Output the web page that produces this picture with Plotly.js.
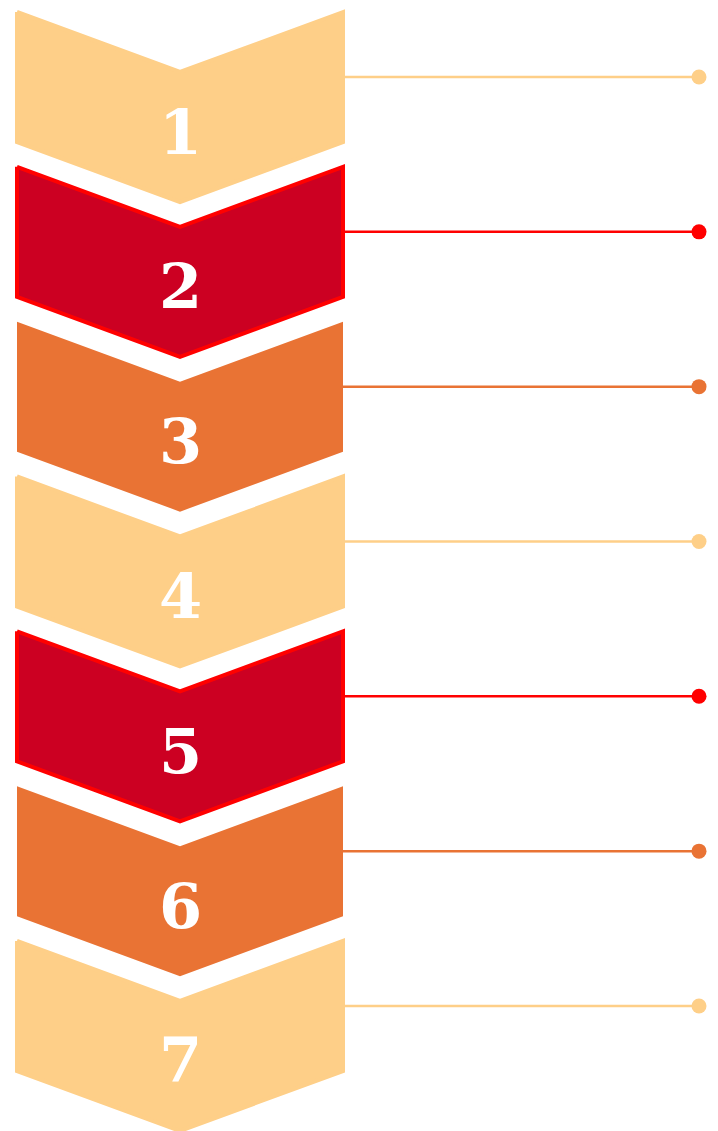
<!DOCTYPE html>
<html>
<head>
<meta charset="utf-8">
<script src="https://cdn.plot.ly/plotly-3.0.1.min.js"></script>
<style>html,body{margin:0;padding:0;background:#fff;}#chart{width:718px;height:1131px;}</style>
</head>
<body>
<div id="chart"></div>
<script>
// ---- data ----
const stepLabels = ['1', '2', '3', '4', '5', '6', '7'];
const stepKinds = ['light', 'red', 'orange', 'light', 'red', 'orange', 'light'];

// ---- styles ----
const palette = {
  light:  {fill: '#FECF88', stroke: '#FECF88', strokeW: 4, line: '#FECF88'},
  red:    {fill: '#CC0022', stroke: '#FF0000', strokeW: 4, line: '#FF0000'},
  orange: {fill: '#E97334', stroke: '#E97334', strokeW: 0, line: '#E97334'}
};
const W = 718, H = 1131;
const pxPerStep = 154.83, firstCenterPx = 77;
const chevLeft = 17, chevRight = 343, chevMid = 180;
const halfH = 65 / pxPerStep, notch = 60 / pxPerStep, tip = 60 / pxPerStep;
const lineEnd = 699;
const textOffset = 55 / pxPerStep;

const traces = [];
const annotations = [];
stepLabels.forEach((lab, i) => {
  const st = palette[stepKinds[i]];
  const yc = i;
  const xs = [chevLeft, chevMid, chevRight, chevRight, chevMid, chevLeft, chevLeft];
  const ys = [yc - halfH, yc - halfH + notch, yc - halfH, yc + halfH, yc + halfH + tip, yc + halfH, yc - halfH];
  traces.push({
    type: 'scatter', mode: 'lines', x: xs, y: ys, fill: 'toself',
    fillcolor: st.fill,
    line: {color: st.stroke, width: st.strokeW, shape: 'linear'},
    hoverinfo: 'skip', showlegend: false
  });
  traces.push({
    type: 'scatter', mode: 'lines', x: [chevRight, lineEnd], y: [yc, yc],
    line: {color: st.line, width: 2.5},
    hoverinfo: 'skip', showlegend: false
  });
  traces.push({
    type: 'scatter', mode: 'markers', x: [lineEnd], y: [yc],
    marker: {color: st.line, size: 15, line: {width: 0}},
    hoverinfo: 'skip', showlegend: false
  });
  annotations.push({
    x: chevMid, y: yc + textOffset, xref: 'x', yref: 'y',
    text: lab, showarrow: false,
    font: {family: 'DejaVu Serif', size: 62, color: '#ffffff', weight: 'bold'},
    xanchor: 'center', yanchor: 'middle'
  });
});

const yTop = -firstCenterPx / pxPerStep;
const yBottom = (H - firstCenterPx) / pxPerStep;

const layout = {
  width: W, height: H,
  margin: {l: 0, r: 0, t: 0, b: 0},
  paper_bgcolor: '#ffffff', plot_bgcolor: '#ffffff',
  xaxis: {range: [0, W], visible: false, fixedrange: true},
  yaxis: {range: [yBottom, yTop], visible: false, fixedrange: true},
  annotations: annotations,
  showlegend: false
};
Plotly.newPlot('chart', traces, layout, {staticPlot: true, displayModeBar: false});
</script>
</body>
</html>
